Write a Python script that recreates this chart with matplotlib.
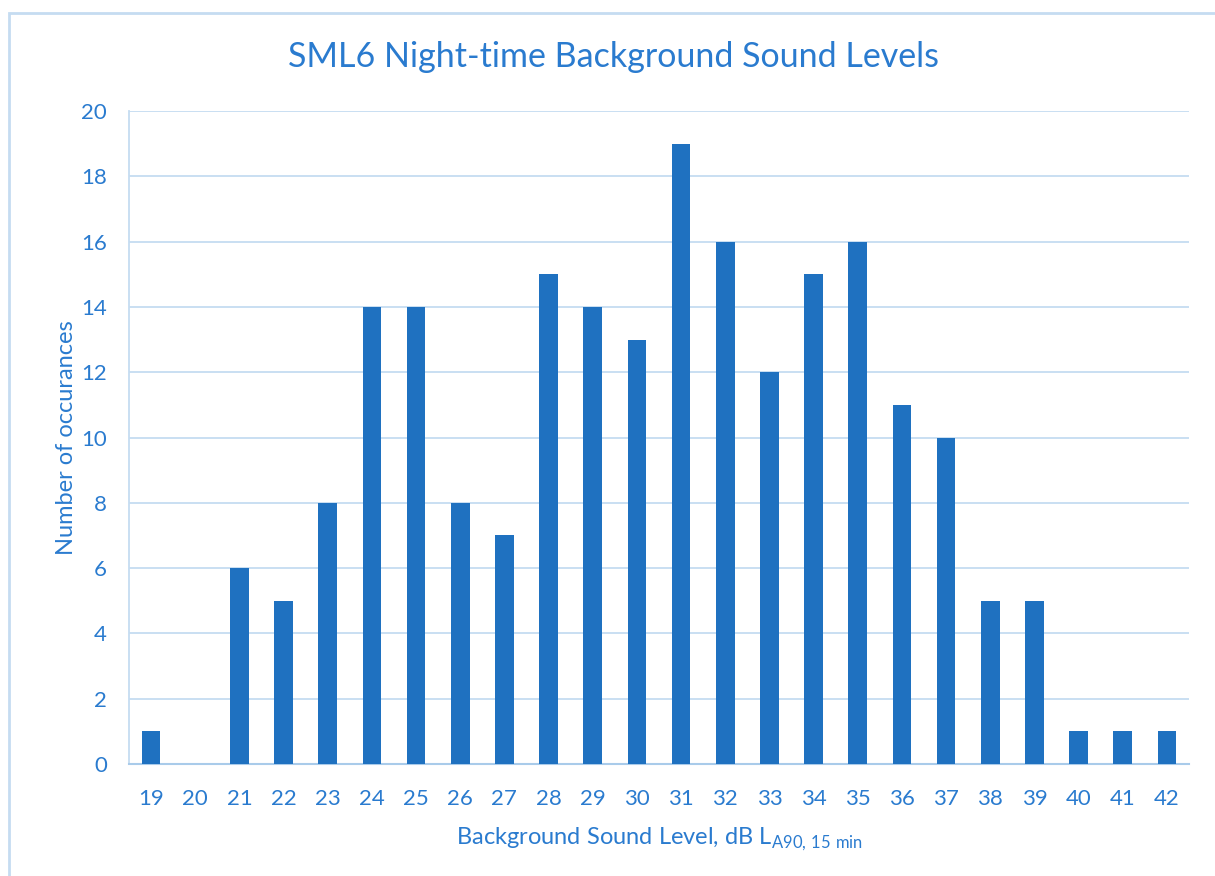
import numpy as np
import matplotlib.pyplot as plt
from matplotlib.patches import Rectangle

levels = list(range(19, 43))
counts = [1, 0, 6, 5, 8, 14, 14, 8, 7, 15, 14, 13, 19, 16, 12, 15, 16, 11, 10, 5, 5, 1, 1, 1]
yticks = list(range(0, 21, 2))

txt = '#2A7BCF'
bar_col = '#1F71C0'
grid_col = '#C5DCF1'

plt.rcParams['font.family'] = ['Lato', 'DejaVu Sans']

fig = plt.figure(figsize=(12.15, 8.76), dpi=100)
# outer chart border (extends beyond right/bottom edge)
fig.patches.append(Rectangle((9 / 1215, -0.1), 1.2, 1 - 13 / 876 + 0.1, transform=fig.transFigure,
                             fill=False, edgecolor=grid_col, lw=2))

ax = fig.add_axes([129 / 1215, 1 - 764 / 876, (1189 - 129) / 1215, (764 - 111) / 876])
x = np.arange(len(levels))
ax.bar(x, counts, width=0.42, color=bar_col, zorder=3)

ax.set_xlim(-0.5, len(levels) - 0.5)
ax.set_ylim(0, 20)
ax.set_yticks(yticks)
ax.set_xticks(x)
ax.set_xticklabels([str(v) for v in levels])
ax.yaxis.grid(True, color=grid_col, lw=1.3, zorder=0)
for s in ['top', 'right']:
    ax.spines[s].set_visible(False)
ax.spines['left'].set_color(grid_col)
ax.spines['bottom'].set_color('#A9CBEA')
ax.spines['bottom'].set_linewidth(1.5)
ax.spines['left'].set_linewidth(1.3)
ax.tick_params(length=0, labelsize=16, colors=txt, pad=18)
ax.tick_params(axis='y', pad=16)

fig.text(613 / 1215, 1 - 57 / 876, 'SML6 Night-time Background Sound Levels', fontsize=24.5,
         color=txt, ha='center', va='center')
ax.set_ylabel('Number of occurances', fontsize=17, color=txt, labelpad=3)
ax.set_xlabel(r'Background Sound Level, dB L$_{\mathregular{A90{,}\ 15\ min}}$', fontsize=17,
              color=txt, labelpad=12)

fig.savefig('out.png', dpi=100)
